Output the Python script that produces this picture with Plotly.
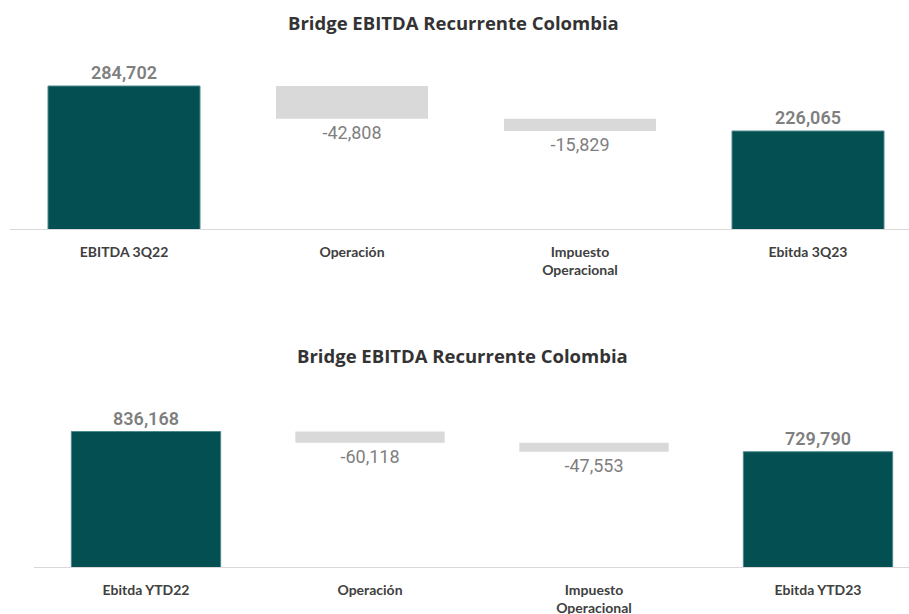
import plotly.graph_objects as go

# ---- data ----
title_text = "Bridge EBITDA Recurrente Colombia"

cats_q = ["EBITDA 3Q22", "Operación", "Impuesto<br>Operacional", "Ebitda 3Q23"]
vals_q = [284702, -42808, -15829, 226065]

cats_y = ["Ebitda YTD22", "Operación", "Impuesto<br>Operacional", "Ebitda YTD23"]
vals_y = [836168, -60118, -47553, 729790]

measures = ["absolute", "relative", "relative", "total"]

TEAL = "#034F52"
GREY_BAR = "#D9D9D9"
LABEL_GREY = "#7F7F7F"
CAT_COLOR = "#404040"

W, H = 909, 614


def fmt(v):
    return f"{v:,.0f}"


def make_trace(cats, vals, xa, ya):
    text = [fmt(v) for v in vals]
    return go.Waterfall(
        x=cats,
        y=vals,
        measure=measures,
        text=text,
        textposition="outside",
        textfont=dict(family="Roboto", size=18, color=LABEL_GREY,
                      weight=[600, 400, 400, 600]),
        cliponaxis=False,
        connector=dict(visible=False),
        increasing=dict(marker=dict(color=TEAL)),
        decreasing=dict(marker=dict(color=GREY_BAR)),
        totals=dict(marker=dict(color=TEAL, line=dict(color="#4E8A8C", width=1))),
        xaxis=xa,
        yaxis=ya,
        showlegend=False,
        hoverinfo="skip",
    )


fig = go.Figure()
fig.add_trace(make_trace(cats_q, vals_q, "x", "y"))
fig.add_trace(make_trace(cats_y, vals_y, "x2", "y2"))


def py(pix):
    return 1 - pix / H


# top panel geometry
top_base_px, top_top_px = 229, 60
s_top = 45 / (vals_q[0] - vals_q[3])          # px per unit
top_lo = vals_q[0] - (top_base_px - 86) / s_top
top_hi = top_lo + (top_base_px - top_top_px) / s_top

# bottom panel geometry
bot_base_px, bot_top_px = 567, 400
s_bot = 20 / (vals_y[0] - vals_y[3])
bot_lo = vals_y[0] - (bot_base_px - 431.5) / s_bot
bot_hi = bot_lo + (bot_base_px - bot_top_px) / s_bot

xcommon = dict(showline=True, linecolor="#D9D9D9", linewidth=1,
               showgrid=False, zeroline=False, automargin=False,
               ticks="outside", ticklen=10, tickcolor="rgba(0,0,0,0)",
               tickfont=dict(family="Lato", size=14, color=CAT_COLOR, weight=700),
               fixedrange=True)
ycommon = dict(visible=False, showgrid=False, zeroline=False, fixedrange=True)

fig.update_layout(
    width=W, height=H,
    margin=dict(l=0, r=0, t=0, b=0),
    paper_bgcolor="white", plot_bgcolor="white",
    waterfallgap=1 / 3,
    xaxis=dict(domain=[10 / W, 1], range=[-0.5, -0.5 + (W - 10) / 228],
               anchor="y", **xcommon),
    yaxis=dict(domain=[py(top_base_px), py(top_top_px)], range=[top_lo, top_hi],
               anchor="x", **ycommon),
    xaxis2=dict(domain=[34 / W, 1], range=[-0.5, -0.5 + (W - 34) / 224],
                anchor="y2", **xcommon),
    yaxis2=dict(domain=[py(bot_base_px), py(bot_top_px)], range=[bot_lo, bot_hi],
                anchor="x2", **ycommon),
    annotations=[
        dict(text=title_text, x=453 / W, y=py(22), xref="paper", yref="paper",
             showarrow=False, xanchor="center", yanchor="middle",
             font=dict(family="Open Sans", size=18.5, color="#333333", weight=700)),
        dict(text=title_text, x=462 / W, y=py(355), xref="paper", yref="paper",
             showarrow=False, xanchor="center", yanchor="middle",
             font=dict(family="Open Sans", size=18.5, color="#333333", weight=700)),
    ],
)

fig.write_html("out.html", config={"displayModeBar": False},
               post_script="document.body.style.margin='0';")
